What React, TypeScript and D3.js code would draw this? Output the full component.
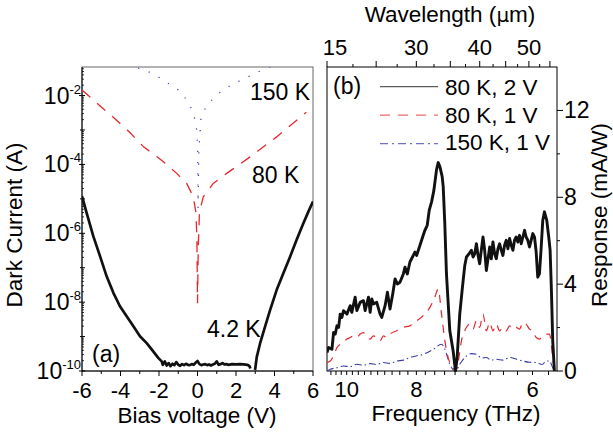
import React from "react";
import * as d3 from "d3";

// ---------- Panel (a): dark current vs bias ----------
const biasTicks = [-6, -4, -2, 0, 2, 4, 6];
const biasMinorTicks = [-5, -3, -1, 1, 3, 5];
const currentDecades = [-10, -8, -6, -4, -2];
const currentOddDecades = [-9, -7, -5, -3];

// 4.2 K : [bias V, log10 I]
const dark42K_neg: [number, number][] = [
  [-6.0, -4.92], [-5.76, -5.41], [-5.41, -6.09], [-5.06, -6.67], [-4.72, -7.25],
  [-4.37, -7.73], [-4.03, -8.12], [-3.68, -8.41], [-3.33, -8.7], [-2.99, -8.99],
  [-2.64, -9.19], [-2.3, -9.43], [-2.04, -9.62], [-1.86, -9.72], [-1.8, -9.82],
  [-1.7, -9.72], [-1.6, -9.84], [-1.5, -9.77], [-1.4, -9.86], [-1.3, -9.79],
  [-1.2, -9.83], [-1.1, -9.74], [-1.0, -9.82], [-0.9, -9.85], [-0.8, -9.8],
  [-0.7, -9.83], [-0.6, -9.79], [-0.5, -9.82], [-0.4, -9.83], [-0.3, -9.8],
  [-0.2, -9.82], [-0.1, -9.76], [0.0, -9.71], [0.1, -9.8], [0.2, -9.83],
  [0.3, -9.81], [0.4, -9.8], [0.5, -9.83], [0.6, -9.81], [0.7, -9.84],
  [0.8, -9.81], [0.9, -9.79], [1.0, -9.72], [1.1, -9.82], [1.2, -9.8],
  [1.3, -9.77], [1.4, -9.81], [1.5, -9.8], [1.6, -9.82], [1.8, -9.8],
  [2.0, -9.81], [2.2, -9.8], [2.4, -9.81], [2.6, -9.82], [2.7, -9.86], [2.75, -9.93],
];
const dark42K_pos: [number, number][] = [
  [2.99, -9.97], [3.08, -9.59], [3.25, -9.2], [3.51, -8.71], [3.77, -8.23],
  [4.11, -7.65], [4.46, -7.16], [4.81, -6.68], [5.15, -6.19], [5.5, -5.71],
  [5.76, -5.37], [6.0, -5.08],
];
// 80 K
const dark80K: [number, number][] = [
  [-6.0, -1.84], [-5.5, -2.08], [-5.0, -2.33], [-4.5, -2.57], [-4.0, -2.82],
  [-3.5, -3.08], [-2.8, -3.49], [-2.0, -3.82], [-1.5, -4.05], [-1.08, -4.26],
  [-0.56, -4.55], [-0.22, -4.94], [-0.08, -5.4], [-0.03, -6.2], [0.0, -8.03],
  [0.04, -6.4], [0.1, -5.4], [0.3, -4.94], [0.82, -4.55], [1.52, -4.26],
  [2.73, -3.78], [4.11, -3.2], [5.5, -2.56], [5.65, -2.48],
];
// 150 K
const dark150K: [number, number][] = [
  [-3.6, -1.05], [-3.0, -1.22], [-2.3, -1.36], [-0.96, -1.85], [-0.43, -2.22],
  [-0.17, -2.61], [-0.04, -3.0], [0.01, -3.6], [0.03, -5.27], [0.07, -3.6],
  [0.18, -2.66], [0.48, -2.27], [1.12, -1.93], [1.81, -1.67], [2.47, -1.5],
  [3.2, -1.3], [4.0, -1.1],
];

// ---------- Panel (b): response spectra ----------
// [wavelength µm, response mA/W]
const resp80K2V: [number, number][] = [
  [27.86, 0.85], [28.03, 1.08], [28.39, 1.0], [28.57, 1.78], [28.75, 1.7], [28.93, 2.08],
  [29.11, 2.01], [29.28, 2.62], [29.46, 2.47], [29.64, 2.78], [30.0, 2.62], [30.36, 3.01],
  [30.53, 2.7], [30.89, 3.4], [31.07, 2.78], [31.43, 3.16], [31.78, 3.24], [31.96, 2.78],
  [32.32, 3.4], [32.5, 2.7], [32.68, 3.32], [32.86, 3.09], [33.21, 3.16], [33.57, 2.62],
  [33.75, 2.47], [34.11, 3.01], [34.36, 3.63], [34.64, 2.85], [34.93, 3.55], [35.18, 4.24],
  [35.43, 4.01], [35.71, 4.09], [36.07, 4.47], [36.25, 4.78], [36.5, 4.47], [36.78, 5.02],
  [37.14, 5.32], [37.32, 5.48], [37.5, 5.32], [37.86, 5.79], [38.21, 6.25], [38.39, 6.48],
  [38.64, 6.71], [38.86, 7.41], [39.11, 7.79], [39.36, 8.33], [39.64, 9.26], [39.82, 9.6],
  [40.0, 9.41], [40.25, 8.95], [40.36, 8.49], [40.53, 6.79], [40.71, 4.47], [41.07, 1.85],
  [41.43, 0.92], [41.68, 0.0], [41.86, 0.62], [42.14, 2.62], [42.43, 3.86], [42.68, 4.86],
  [42.86, 5.25], [43.14, 5.4], [43.39, 5.56], [43.57, 5.25], [43.75, 5.4], [43.93, 5.86],
  [44.11, 5.32], [44.28, 4.94], [44.46, 5.56], [44.64, 6.17], [44.82, 5.56], [45.0, 4.63],
  [45.18, 5.17], [45.36, 5.71], [45.53, 5.17], [45.71, 5.94], [45.89, 5.4], [46.07, 5.17],
  [46.25, 5.63], [46.43, 5.86], [46.61, 5.56], [46.78, 5.32], [46.96, 5.79], [47.14, 6.02],
  [47.32, 5.63], [47.5, 6.1], [47.68, 5.79], [47.86, 5.56], [48.03, 6.02], [48.21, 6.17],
  [48.39, 5.94], [48.57, 6.25], [48.75, 5.86], [48.93, 6.17], [49.11, 6.48], [49.28, 6.17],
  [49.46, 6.02], [49.64, 5.71], [49.82, 6.02], [50.0, 6.33], [50.18, 6.17], [50.36, 5.48],
  [50.53, 4.32], [50.71, 4.47], [50.89, 5.63], [51.07, 6.94], [51.25, 7.33], [51.5, 6.94],
  [51.71, 6.17], [51.86, 5.56], [52.0, 3.7], [52.14, 1.39], [52.32, 0.0],
];
const resp80K1V: [number, number][] = [
  [27.86, 0.39], [28.21, 0.46], [28.57, 0.69], [28.93, 1.08], [29.28, 1.23], [29.64, 1.31],
  [30.0, 1.47], [30.36, 1.54], [30.71, 1.62], [31.07, 1.54], [31.43, 1.7], [31.78, 1.77],
  [32.14, 1.54], [32.5, 1.47], [32.86, 1.62], [33.21, 1.54], [33.57, 1.39], [33.93, 1.62],
  [34.29, 1.54], [34.64, 1.7], [35.36, 1.85], [36.07, 2.01], [36.78, 2.08], [37.5, 2.31],
  [38.21, 2.55], [38.93, 2.93], [39.46, 3.4], [39.82, 3.78], [40.18, 2.62], [40.54, 1.39],
  [40.89, 0.62], [41.43, 0.15], [41.68, 0.0], [41.96, 0.39], [42.32, 1.39], [42.68, 1.85],
  [43.21, 2.16], [43.57, 1.93], [43.93, 2.31], [44.28, 2.01], [44.64, 2.62], [45.0, 1.85],
  [45.36, 2.24], [45.71, 1.85], [46.07, 2.16], [46.43, 1.85], [46.78, 2.01], [47.14, 1.85],
  [47.5, 2.08], [47.86, 1.93], [48.21, 2.01], [48.57, 1.93], [48.93, 2.24], [49.28, 2.16],
  [49.64, 1.93], [50.0, 1.85], [50.36, 1.54], [50.71, 1.47], [51.07, 1.62], [51.43, 1.7],
  [51.79, 1.7], [52.14, 0.62], [52.32, 0.0],
];
const resp150K1V: [number, number][] = [
  [27.86, 0.0], [28.21, 0.08], [28.93, 0.15], [29.64, 0.23], [30.36, 0.2], [31.07, 0.31],
  [31.8, 0.26], [32.5, 0.34], [33.2, 0.3], [33.93, 0.39], [34.6, 0.35], [35.36, 0.46],
  [36.07, 0.5], [36.78, 0.62], [37.5, 0.7], [38.21, 0.77], [39.29, 1.0], [40.18, 1.23],
  [40.54, 1.0], [41.07, 0.31], [41.68, 0.0], [42.14, 0.31], [42.86, 0.69], [43.4, 0.8],
  [43.93, 0.77], [44.5, 0.6], [45.0, 0.62], [45.5, 0.5], [46.07, 0.54], [46.8, 0.5],
  [47.5, 0.62], [48.2, 0.55], [48.93, 0.46], [49.6, 0.4], [50.36, 0.39], [51.0, 0.3],
  [51.43, 0.46], [51.79, 0.46], [52.14, 0.15], [52.32, 0.0],
];
const responseTicks = [0, 4, 8, 12];
const responseMinorTicks = [2, 6, 10];
const freqLabels = [10, 8, 6];
const freqMinorTicks = d3.range(10.6, 5.7, -0.2);
const wavelengthTicks = [20, 25, 30, 35, 40, 45, 50, 55];
const wavelengthMinorTicks = [22.5, 27.5, 32.5, 37.5, 42.5, 47.5, 52.5];
const wavelengthLabels: [number, string][] = [[20, "15"], [30, "30"], [40, "40"], [50, "50"]];
const legendItems = ["80 K, 2 V", "80 K, 1 V", "150 K, 1 V"];

const C_LIGHT = 299.79; // µm·THz

const FONT = "'Liberation Sans', Arial, Helvetica, sans-serif";

export default function App() {
  const W = 613, H = 432;
  // panel (a)
  const aL = 82, aR = 313, aT = 67, aB = 371;
  const xA = d3.scaleLinear().domain([-6, 6]).range([aL, aR]);
  const yA = d3.scaleLog().domain([1e-10, Math.pow(10, -1.17)]).range([aB, aT]);
  const lineA = d3.line<[number, number]>().x(d => xA(d[0])).y(d => yA(Math.pow(10, d[1])));

  // panel (b)
  const bL = 327, bR = 557, bT = 67, bB = 371;
  const xB = d3.scaleLinear().domain([27.86, 52.6]).range([bL, bR]);
  const xTop = d3.scaleLog().domain([20, 56.8]).range([bL, bR]);
  const yB = d3.scaleLinear().domain([0, 14]).range([bB, bT]);
  const lineB = d3.line<[number, number]>().x(d => xB(d[0])).y(d => yB(d[1]));
  const lineBs = d3.line<[number, number]>().x(d => xB(d[0])).y(d => yB(d[1])).curve(d3.curveMonotoneX);
  const fx = (f: number) => xB(C_LIGHT / f);

  const minorLog: number[] = [];
  for (let e = -10; e < -1; e++) for (let k = 2; k <= 9; k++) {
    const v = k * Math.pow(10, e);
    if (v <= Math.pow(10, -1.17)) minorLog.push(v);
  }

  const red = "#e8262b";
  const blue = "#3b3ba8";

  return (
    <svg width={W} height={H} style={{ position: "absolute", left: 0, top: 0, background: "#fff" }}
      fontFamily={FONT}>
      <defs>
        <clipPath id="clipA"><rect x={aL} y={aT} width={aR - aL} height={aB - aT} /></clipPath>
        <clipPath id="clipB"><rect x={bL} y={bT - 1} width={bR - bL} height={bB - bT + 2} /></clipPath>
      </defs>

      {/* ===== Panel (a) ===== */}
      <rect x={aL} y={aT} width={aR - aL} height={aB - aT} fill="none" stroke="#666" strokeWidth={1} />
      <line x1={aL} x2={aL} y1={aT} y2={aB} stroke="#000" />
      <line x1={aL} x2={aR} y1={aB} y2={aB} stroke="#000" />
      {biasTicks.map(v => (
        <g key={"bt" + v}>
          <line x1={xA(v)} x2={xA(v)} y1={aB} y2={aB + 5} stroke="#000" />
          <text x={xA(v)} y={aB + 27} textAnchor="middle" fontSize={22}>{v}</text>
        </g>
      ))}
      {biasMinorTicks.map(v => (
        <line key={"bm" + v} x1={xA(v)} x2={xA(v)} y1={aB} y2={aB + 3} stroke="#000" />
      ))}
      {currentDecades.map(e => (
        <g key={"cd" + e}>
          <line x1={aL - 3} x2={aL + 3} y1={yA(Math.pow(10, e))} y2={yA(Math.pow(10, e))} stroke="#000" />
          <text x={aL - 1} y={yA(Math.pow(10, e)) + 8} textAnchor="end" fontSize={23}>
            10<tspan dy={-10} fontSize={13}>{e}</tspan>
          </text>
        </g>
      ))}
      {currentOddDecades.map(e => (
        <line key={"co" + e} x1={aL - 2} x2={aL + 3} y1={yA(Math.pow(10, e))} y2={yA(Math.pow(10, e))} stroke="#000" />
      ))}
      {minorLog.map((v, i) => (
        <line key={"ml" + i} x1={aL} x2={aL + 2} y1={yA(v)} y2={yA(v)} stroke="#000" strokeWidth={0.8} />
      ))}
      <g clipPath="url(#clipA)" fill="none">
        <path d={lineA(dark150K) || ""} stroke={blue} strokeWidth={1.2} strokeDasharray="1.2,10" />
        <path d={lineA(dark80K) || ""} stroke={red} strokeWidth={1.3} strokeDasharray="11,9" />
        <path d={lineA(dark42K_neg) || ""} stroke="#111" strokeWidth={2.7} strokeLinejoin="round" />
        <path d={lineA(dark42K_pos) || ""} stroke="#111" strokeWidth={2.7} strokeLinejoin="round" />
      </g>
      <text x={250} y={100} fontSize={23}>150 K</text>
      <text x={252} y={183} fontSize={23}>80 K</text>
      <text x={207} y={337} fontSize={23}>4.2 K</text>
      <text x={92} y={362} fontSize={23}>(a)</text>
      <text x={197} y={423} textAnchor="middle" fontSize={22.5}>Bias voltage (V)</text>
      <text transform={`translate(22,${(aT + aB) / 2 + 6}) rotate(-90)`} textAnchor="middle" fontSize={22.5}>Dark Current (A)</text>

      {/* ===== Panel (b) ===== */}
      <rect x={bL} y={bT} width={bR - bL} height={bB - bT} fill="none" stroke="#000" strokeWidth={1} />
      {/* top wavelength axis */}
      {wavelengthTicks.map(v => (
        <line key={"wt" + v} x1={xTop(v)} x2={xTop(v)} y1={bT} y2={bT - 6} stroke="#000" />
      ))}
      {wavelengthMinorTicks.map(v => (
        <line key={"wm" + v} x1={xTop(v)} x2={xTop(v)} y1={bT} y2={bT - 3} stroke="#000" />
      ))}
      {wavelengthLabels.map(([v, s], i) => (
        <text key={"wl" + v} x={xTop(v) + (i === 0 ? 8 : 0)} y={55} textAnchor="middle" fontSize={22}>{s}</text>
      ))}
      <text x={450} y={22} textAnchor="middle" fontSize={22.5}>Wavelength (<tspan fontFamily="'DejaVu Sans', serif" fontSize={20}>μ</tspan>m)</text>
      {/* bottom frequency axis */}
      {freqMinorTicks.map((f, i) => (
        <line key={"fm" + i} x1={fx(f)} x2={fx(f)} y1={bB} y2={bB + 4} stroke="#000" />
      ))}
      {freqLabels.map(f => (
        <text key={"fl" + f} x={fx(f)} y={397} textAnchor="middle" fontSize={22}>{f}</text>
      ))}
      <text x={456} y={421} textAnchor="middle" fontSize={22.5}>Frequency (THz)</text>
      {/* right response axis */}
      {responseTicks.map(v => (
        <g key={"rt" + v}>
          <line x1={bR} x2={bR + 6} y1={yB(v)} y2={yB(v)} stroke="#000" />
          <text x={bR + 7} y={yB(v) + 8} fontSize={23}>{v}</text>
        </g>
      ))}
      {responseMinorTicks.map(v => (
        <line key={"rm" + v} x1={bR} x2={bR + 3} y1={yB(v)} y2={yB(v)} stroke="#000" />
      ))}
      <text transform={`translate(607,${215}) rotate(-90)`} textAnchor="middle" fontSize={22.5}>Response (mA/W)</text>

      <g clipPath="url(#clipB)" fill="none">
        <path d={lineBs(resp150K1V) || ""} stroke={blue} strokeWidth={1.1} strokeDasharray="7,3,1.5,3" />
        <path d={lineBs(resp80K1V) || ""} stroke={red} strokeWidth={1.2} strokeDasharray="8,7" />
        <path d={lineB(resp80K2V) || ""} stroke="#111" strokeWidth={2.9} strokeLinejoin="round" />
      </g>

      {/* legend */}
      <text x={333} y={94} fontSize={23}>(b)</text>
      {legendItems.map((s, i) => (
        <g key={"lg" + i}>
          <line x1={380} x2={438} y1={86.7 + i * 28.5} y2={86.7 + i * 28.5}
            stroke={i === 0 ? "#333" : i === 1 ? "#ee6a6a" : "#7070c8"}
            strokeWidth={i === 0 ? 1 : 1.3}
            strokeDasharray={i === 0 ? undefined : i === 1 ? "10,8" : "8,4,2,4"} />
          <text x={445} y={95 + i * 27.5} fontSize={22.5}>{s}</text>
        </g>
      ))}
    </svg>
  );
}
